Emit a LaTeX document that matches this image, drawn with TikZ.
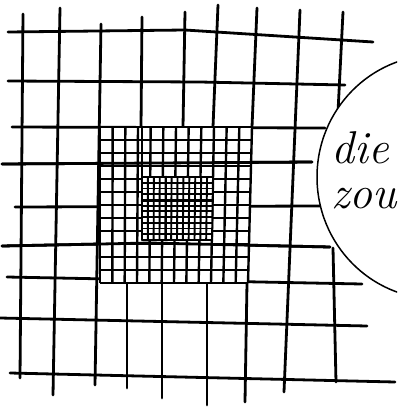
\documentclass[tikz,border=0pt]{standalone}
\usepackage{tikz}
\usetikzlibrary{positioning}
\tikzset{
  coarse/.style={line width=2.8pt, line cap=round},
  medium/.style={line width=2.4pt},
  fine/.style={line width=1.9pt},
  zone/.style={line width=1.5pt},
  word/.style={anchor=base west, inner sep=0pt, font=\fontsize{46}{50}\selectfont\itshape}
}

\begin{document}
\begin{tikzpicture}[x=1pt, y=-1pt]
    \useasboundingbox (0,0) rectangle (397,410);
    \begin{scope}
    \clip (0,0) rectangle (397,410);
    % Coarse grid: horizontal strokes
    \draw[coarse] (8,32) -- (185,30) -- (373,42);
    \draw[coarse] (8,81) -- (200,82) -- (345,85);
    \draw[coarse] (12,127) -- (325,128);
    \draw[coarse] (2,164) -- (312,162);
    \draw[coarse] (15,207) -- (320,206);
    \draw[coarse] (2,246) -- (150,243) -- (330,247);
    \draw[coarse] (7,277) -- (362,284);
    \draw[coarse] (0,318) -- (367,326);
    \draw[coarse] (10,373) -- (395,382);
    % Coarse grid: vertical strokes
    \draw[coarse] (23,14) -- (20,378);
    \draw[coarse] (60,8) -- (53,395);
    \draw[coarse] (101,24) -- (95,385);
    \draw[coarse] (142,17) -- (141,127);
    \draw[coarse] (185,12) -- (183,127);
    \draw[coarse] (218,5) -- (213,127);
    \draw[coarse] (257,8) -- (252,127);
    \draw[coarse] (300,10) -- (284,392);
    \draw[coarse] (343,12) -- (338,112);
    \draw[coarse] (127,283) -- (127,388);
    \draw[coarse] (162,283) -- (162,398);
    \draw[coarse] (207,283) -- (207,405);
    \draw[coarse] (247,283) -- (245,402);
    \draw[coarse] (333,248) -- (336,382);
    % Medium grid
    \fill[white] (100,127) -- (252,127) -- (248,283) -- (100,283) -- cycle;
    \foreach \i in {0,...,12} {
      \draw[medium] ({100+\i*152/12},127) -- ({100+\i*148/12},283);
      \draw[medium] (100,{127+\i*156/12}) -- ({252-\i*4/12},{127+\i*156/12});
    }
    \draw[coarse] (2,164) -- (312,162);
    \draw[coarse] (2,246) -- (150,243) -- (330,247);
    % Fine grid
    \fill[white] (142,177) -- (213,177) -- (212,240) -- (142,240) -- cycle;
    \foreach \i in {0,...,12} {
      \draw[fine] ({142+\i*71/12},177) -- ({142+\i*70/12},240);
    }
    \foreach \i in {0,...,11} {
      \draw[fine] (142,{177+\i*63/11}) -- ({213-\i/11},{177+\i*63/11});
    }
    \draw[coarse] (142,127) -- (142,240);
    \draw[coarse] (166,177) -- (166,240);
    \draw[coarse] (142,201) -- (212,201);
    % Round zone on the right
    \fill[white] (437,177) ellipse [x radius=120, y radius=122];
    \draw[zone] (437,177) ellipse [x radius=120, y radius=122];
    \node[word] (die) at (331,163) {die};
    \node[word] (zou) at (331,208) {zou};
    \end{scope}
\end{tikzpicture}
\end{document}
